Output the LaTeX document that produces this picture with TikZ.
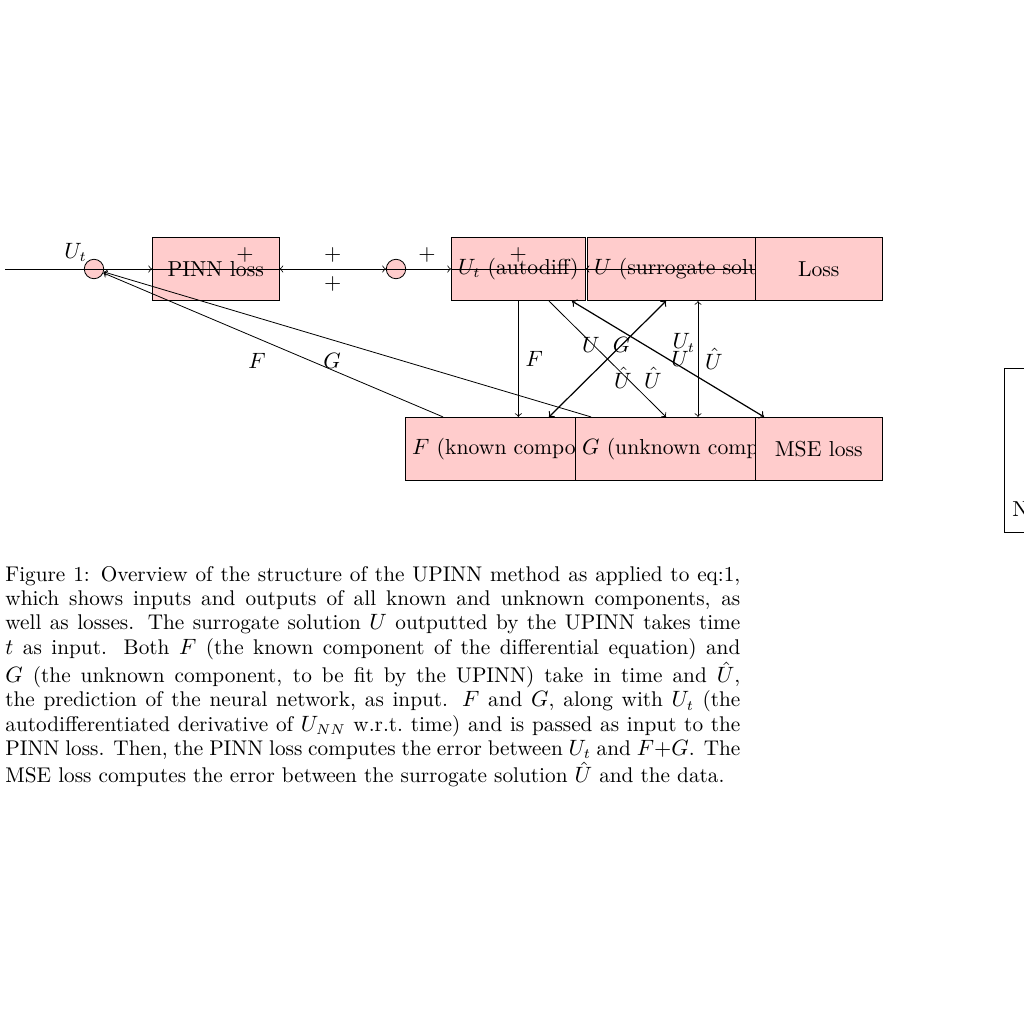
\documentclass[tikz,border=0pt]{standalone}
\usepackage{amsmath}
\usepackage{tikz}
\usetikzlibrary{arrows,positioning,calc}

\begin{document}
\begin{tikzpicture}[x=0.4939pt,y=-0.4939pt,
  every node/.append style={font=\fontsize{10.7}{12}\selectfont},
  block/.style={draw,fill=red!20,minimum width=2.2cm,minimum height=1.1cm},
  sumnode/.style={draw,circle,fill=red!20,minimum size=9.6pt,inner sep=0pt}]
  \useasboundingbox (0,0) rectangle (1024,1024);
  \coordinate (In) at (5,269);
  \node[sumnode]           (SumIn)     at (94,269)  {};
  \node[block,anchor=west] (PINNloss)  at (152,269) {PINN loss};
  \node[sumnode]           (SumMid)    at (396,269) {};
  \node[block,anchor=west] (Autodiff)  at (451,269) {$U_t$ (autodiff)};
  \node[block,anchor=west] (Surrogate) at (587,269) {$U$ (surrogate solution)};
  \node[block,anchor=west] (Loss)      at (755,269) {Loss};
  \node[block,anchor=west] (Known)     at (405,449) {$F$ (known component)};
  \node[block,anchor=west] (Unknown)   at (575,449) {$G$ (unknown component)};
  \node[block,anchor=west] (MSEloss)   at (755,449) {MSE loss};
  \node[draw,fill=white,anchor=north west,minimum width=40pt,minimum height=81pt] (Data) at (1004,368) {};
  \node[anchor=base west,inner sep=0pt] (DataText) at ($(Data.south west)+(8,-16)$) {N};
\tikzset{mystyle/.style={->}}
  \draw[mystyle] (In) -- (PINNloss.west) node[pos=0.48,above] {$U_t$};
  \draw (SumIn) -- (SumMid) node[midway,above] {$+$};
  \draw[<->] (PINNloss.east) -- (SumMid.west) node[midway,above] {$+$} node[midway,below] {$+$};
  \draw[mystyle] (SumMid.west) -- (Autodiff.west) node[pos=0.63,above] {$+$};
  \node[above] (PlusAuto) at (Autodiff.center) {$+$};
  \draw (Autodiff.west) -- (Autodiff.east);
  \draw[mystyle] (Loss.west) -- (Autodiff.east);
  \draw[mystyle] (Autodiff.south) -- (Autodiff.south |- Known.north) node[midway,right] {$F$};
  \draw[mystyle] ($(Autodiff.south west)+(98,0)$) -- ($(Unknown.north west)+(91,0)$)
     node[pos=0.38,xshift=-1.3pt] {$U$}
     node[pos=0.66,xshift=-1.6pt] {$\hat U$}
     node[pos=0.66,xshift=13.2pt] {$\hat U$};
\tikzset{mystyle/.style={<->,semithick}}
  \draw[mystyle] ($(Surrogate.south west)+(79,0)$) -- ($(Known.north west)+(144,0)$) node[pos=0.38] {$G$};
  \draw[mystyle] ($(Autodiff.south west)+(121,0)$) -- ($(MSEloss.north west)+(9,0)$) node[pos=0.5,xshift=6pt] {$U$};
\tikzset{mystyle/.style={<->}}
  \draw[mystyle] ($(Surrogate.south west)+(111,0)$) -- ($(Unknown.north west)+(123,0)$)
     node[pos=0.36,left,xshift=2pt] {$U_t$} node[midway,right] {$\hat U$};
\tikzset{mystyle/.style={->}}
  \draw[mystyle] ($(Known.north west)+(38,0)$) -- (SumIn);
  \draw[mystyle] ($(Unknown.north west)+(16,0)$) -- (SumIn);
  \node (LabF) at (257,361) {$F$};
  \node (LabG) at (332,361) {$G$};
  \node[anchor=north west,inner sep=0pt,text width=363pt,align=justify,
        font=\fontsize{10.5}{12}\selectfont] (Caption) at (5,566)
  {Figure 1: Overview of the structure of the UPINN method as applied to eq:1,\linebreak
  which shows inputs and outputs of all known and unknown components, as\linebreak
  well as losses. The surrogate solution $U$ outputted by the UPINN takes time\linebreak
  $t$ as input. Both $F$ (the known component of the differential equation) and\linebreak
  $G$ (the unknown component, to be fit by the UPINN) take in time and $\hat{U}$,\linebreak
  the prediction of the neural network, as input. $F$ and $G$, along with $U_t$ (the\linebreak
  autodifferentiated derivative of $U_{NN}$ w.r.t.\ time) and is passed as input to the\linebreak
  PINN loss. Then, the PINN loss computes the error between $U_t$ and $F{+}G$. The\linebreak
  MSE loss computes the error between the surrogate solution $\hat{U}$ and the data.};
\end{tikzpicture}
\end{document}
